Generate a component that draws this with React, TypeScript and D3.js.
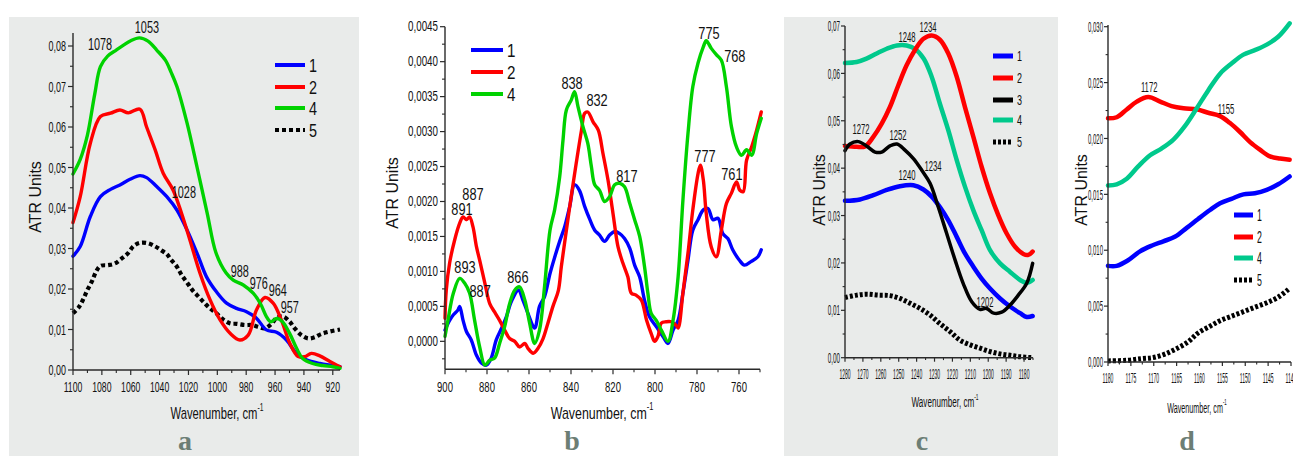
import React from 'react';
import * as d3 from 'd3';

type Pt = [number, number];

// ---------------- Panel a data ----------------
const aBlue: Pt[] = [[1100,0.0281],[1095,0.0305],[1088,0.0379],[1081,0.0428],[1074,0.0446],[1067.5,0.0457],[1060.5,0.0471],[1053.6,0.048],[1049,0.0475],[1042,0.0453],[1035,0.0428],[1028,0.0395],[1021,0.0346],[1014,0.0288],[1007.5,0.023],[1000.6,0.0193],[993.6,0.0165],[986.7,0.0152],[979.8,0.0144],[972.9,0.0128],[966,0.0099],[959,0.0093],[952.1,0.0074],[945.2,0.0041],[938.3,0.0025],[929,0.0016],[920,0.0011],[915,0.0008]];
const aRed: Pt[] = [[1100,0.0364],[1095,0.0428],[1088,0.056],[1081,0.0626],[1074,0.0634],[1067.5,0.0642],[1061.7,0.0635],[1053.6,0.0644],[1049,0.060],[1043,0.0543],[1037.5,0.0486],[1030.6,0.0444],[1024.8,0.0387],[1019,0.0321],[1012,0.0239],[1005,0.0173],[998,0.0123],[991,0.009],[984.4,0.0074],[978.6,0.0086],[972.9,0.0148],[967,0.0179],[961.3,0.0165],[955.6,0.0123],[949.8,0.0066],[944,0.0033],[939.4,0.0033],[934.8,0.0041],[929,0.0035],[922,0.0021],[915,0.0008]];
const aGreen: Pt[] = [[1100,0.0484],[1095,0.052],[1090,0.058],[1085,0.068],[1081,0.0749],[1076,0.0775],[1070,0.079],[1065,0.0802],[1060,0.0813],[1054,0.082],[1048,0.0812],[1042,0.079],[1036,0.0765],[1032,0.0735],[1028,0.070],[1021,0.061],[1014,0.050],[1007,0.0387],[1001,0.029],[994,0.024],[989,0.0222],[982,0.021],[975,0.0189],[970,0.0163],[966,0.0132],[963,0.0119],[959,0.0127],[955,0.012],[950,0.0091],[945,0.0053],[941,0.0029],[934,0.0016],[927,0.0011],[920,0.0008],[915,0.0004]];
const aBlack: Pt[] = [[1100,0.014],[1096,0.0155],[1093,0.0174],[1090,0.0198],[1087,0.0218],[1084,0.0243],[1081,0.0257],[1075.5,0.0259],[1071,0.0263],[1066,0.0276],[1062,0.0288],[1058,0.0306],[1053.6,0.0314],[1048,0.0313],[1043,0.0305],[1039,0.0296],[1035,0.0286],[1032,0.0272],[1028,0.0255],[1024.8,0.0235],[1021,0.0216],[1017,0.0196],[1013,0.0181],[1009,0.0166],[1005,0.0152],[1000.6,0.014],[996,0.0125],[991,0.0115],[986.7,0.0114],[981,0.0111],[976,0.0111],[972,0.0107],[967,0.0103],[962.5,0.0114],[959,0.0128],[954.4,0.0132],[949.8,0.0119],[946.4,0.0103],[941.7,0.0086],[937,0.0078],[932.5,0.0081],[928,0.0089],[922,0.0095],[915,0.01]];
const aXTicks = [1100,1080,1060,1040,1020,1000,980,960,940,920];
const aYTicks = [0,0.01,0.02,0.03,0.04,0.05,0.06,0.07,0.08];
const aLegend = ['1','2','4','5'];
const aNotes: [string, number, number][] = [['1078',1081.3,0.0802],['1053',1048.8,0.0844],['1028',1023.2,0.0437],['988',984.4,0.0242],['976',971.3,0.0212],['964',958.1,0.0195],['957',949.8,0.0153]];

// ---------------- Panel b data ----------------
const bBlue: Pt[] = [[900,0.00016],[897.8,0.0003],[896,0.00038],[893.8,0.00045],[893,0.0005],[891.4,0.0003],[889.8,0.00014],[887.5,0.00002],[885,-0.0002],[882.7,-0.00031],[880.3,-0.00034],[878,-0.00024],[875.6,0.00002],[873,0.00019],[870.8,0.00035],[868.4,0.00057],[865,0.00073],[862.9,0.00059],[860.5,0.0004],[857.3,0.00019],[855,0.0005],[852.6,0.00064],[850,0.00097],[847.8,0.0012],[845.4,0.00143],[843,0.00164],[840.6,0.00193],[838.3,0.00224],[836,0.00216],[833.5,0.00193],[831,0.00174],[828.7,0.00159],[826.4,0.00152],[824,0.00143],[821.6,0.00152],[819.2,0.00157],[816.8,0.00154],[814.5,0.00147],[812,0.00133],[809.7,0.00109],[807.3,0.00092],[805,0.00059],[802.6,0.00035],[799.4,0.00021],[796.2,0.00007],[793.8,-0.00003],[791.4,0.00016],[789,0.0003],[786.7,0.00069],[784.3,0.00116],[782,0.00159],[779.5,0.00174],[777,0.00188],[774.8,0.0019],[772.4,0.00174],[770,0.00176],[767.7,0.00154],[765.3,0.00147],[763,0.00131],[759.8,0.00116],[757.4,0.00109],[754.3,0.00114],[751,0.00121],[749.4,0.00131]];
const bRed: Pt[] = [[900,0.00033],[899.4,0.00073],[897.8,0.00112],[895.4,0.00145],[893,0.00169],[891.4,0.00178],[889.8,0.00174],[888.3,0.00178],[886.7,0.00164],[885,0.00135],[883.5,0.00116],[881,0.00083],[878.7,0.00054],[876.4,0.00042],[874,0.0003],[871.6,0.00016],[869.2,0.00004],[866.8,0],[864.5,-0.00008],[862,-0.00003],[860.5,-0.0001],[858,-0.00017],[855.7,-0.0001],[853.3,0.00004],[851,0.00026],[848.6,0.0005],[846,0.00073],[844.6,0.00107],[842.2,0.00159],[839.9,0.00207],[837.5,0.00255],[835,0.00302],[833.5,0.00326],[832,0.00328],[829.5,0.00314],[827,0.00302],[824.8,0.00269],[822.4,0.00231],[820,0.00183],[817.6,0.00135],[815.3,0.00112],[812.9,0.00092],[811.3,0.00069],[809,0.00066],[806.5,0.00059],[804,0.0003],[801.8,0.00011],[800.2,0],[798.6,0.00007],[797,0.00026],[794.7,0.00028],[792.3,0.00028],[790,0.00023],[789,0.00019],[786.7,0.00069],[784.3,0.00126],[782,0.00188],[779.5,0.0024],[778.4,0.00252],[777,0.00231],[775.6,0.00183],[773.2,0.00135],[770.8,0.00121],[768.4,0.00159],[766,0.00197],[763.6,0.00212],[761.2,0.00228],[759.6,0.00216],[758,0.00214],[756.4,0.00259],[754,0.00278],[751.6,0.00302],[749.4,0.00328]];
const bGreen: Pt[] = [[900,0.00007],[898.6,0.0003],[896,0.00069],[893,0.0009],[890.6,0.00083],[888.3,0.00069],[885.9,0.0003],[883.5,-0.00008],[881,-0.00034],[878.7,-0.00027],[876.4,-0.00024],[874,-0.00003],[871.6,0.00021],[869.2,0.00054],[866.8,0.00073],[864.5,0.00078],[862,0.00059],[859.7,0.00026],[857.3,-0.00003],[855,0.00016],[852.6,0.00078],[850,0.00159],[847.8,0.00188],[845.4,0.00235],[843.8,0.00288],[842.2,0.00331],[839.9,0.00345],[838.3,0.00357],[836.7,0.00336],[834.3,0.00307],[832,0.00283],[830.3,0.0025],[828.7,0.00224],[826.4,0.00216],[824,0.002],[821.6,0.00207],[819.2,0.00224],[816.8,0.00226],[814.5,0.00221],[812,0.00197],[809.7,0.00174],[807.3,0.0015],[805,0.00107],[803.4,0.00069],[801.8,0.0004],[799.4,0.0003],[797,0.00016],[793.8,0],[791.4,0.0003],[789,0.00092],[786.7,0.00202],[784.3,0.00297],[782,0.00364],[779.5,0.00398],[777,0.00421],[775.6,0.0043],[773.2,0.00419],[770.8,0.0041],[768.4,0.00402],[766,0.00364],[763.6,0.00307],[761.2,0.00278],[758.8,0.00266],[756.4,0.00274],[754,0.00266],[751.6,0.00297],[749.4,0.00319]];
const bXTicks = [900,880,860,840,820,800,780,760];
const bYTicks = [0,0.0005,0.001,0.0015,0.002,0.0025,0.003,0.0035,0.004,0.0045];
const bLegend = ['1','2','4'];
const bNotes: [string, number, number][] = [['887',886.7,0.0021],['891',891.9,0.00188],['893',890.5,0.00105],['887',883.3,0.00072],['866',865.3,0.00092],['838',839.5,0.00369],['832',827.6,0.00345],['817',813.4,0.00236],['775',774.3,0.0044],['768',762,0.00407],['777',776.2,0.00264],['761',763.4,0.00239]];

// ---------------- Panel c data ----------------
const cBlue: Pt[] = [[1280,0.0331],[1271.6,0.0334],[1264.2,0.0343],[1256.7,0.0354],[1249.3,0.0362],[1241.8,0.0364],[1236.2,0.0355],[1231.6,0.034],[1227,0.0318],[1222.3,0.029],[1217.6,0.0255],[1213,0.022],[1208.3,0.0192],[1203.7,0.0167],[1199,0.0146],[1193.4,0.0125],[1187.8,0.0108],[1182.2,0.0094],[1178.5,0.0086],[1175.2,0.0088]];
const cRed: Pt[] = [[1280,0.0447],[1273.5,0.0445],[1268.8,0.0446],[1264.2,0.0466],[1259.5,0.0494],[1254.9,0.0529],[1250.2,0.0575],[1245.6,0.0617],[1241,0.0649],[1236.2,0.0673],[1231.6,0.068],[1227,0.0671],[1222.3,0.0642],[1217.6,0.0593],[1213,0.0529],[1208.3,0.0466],[1203.7,0.0403],[1199,0.0347],[1194.4,0.0301],[1189.7,0.0262],[1185,0.0234],[1180.4,0.0219],[1177.6,0.0217],[1175.2,0.0224]];
const cBlack: Pt[] = [[1280,0.0437],[1277.2,0.0451],[1272.6,0.0456],[1268,0.0447],[1263.2,0.0434],[1259.5,0.0434],[1254.9,0.0447],[1251,0.0451],[1246.5,0.0438],[1241.8,0.042],[1237.2,0.0396],[1232.5,0.0368],[1227.9,0.0318],[1223.2,0.0262],[1218.5,0.0206],[1214,0.0157],[1209.2,0.0118],[1204.6,0.0102],[1201,0.0104],[1197,0.0094],[1192.5,0.0096],[1187.8,0.0111],[1183.2,0.0132],[1178.5,0.0157],[1175.2,0.0199]];
const cTeal: Pt[] = [[1280,0.0622],[1273.5,0.0624],[1268,0.0631],[1262.3,0.0642],[1256.7,0.0652],[1251,0.0659],[1245.6,0.0659],[1241,0.0652],[1236,0.0631],[1231.6,0.0593],[1227,0.0536],[1222.3,0.048],[1217.6,0.0417],[1213,0.0361],[1208.3,0.0311],[1203.7,0.0269],[1199,0.0227],[1193.4,0.0199],[1187.8,0.0181],[1182.2,0.0164],[1178.5,0.0158],[1175.2,0.0164]];
const cDots: Pt[] = [[1280,0.0127],[1273.5,0.0132],[1268,0.0134],[1261.4,0.0132],[1254.9,0.0131],[1249.3,0.0125],[1243.7,0.0115],[1238.1,0.0104],[1232.5,0.009],[1227,0.0072],[1221.3,0.0055],[1215.8,0.0037],[1210,0.0027],[1204.6,0.002],[1199,0.0013],[1193.4,0.0008],[1187.8,0.0005],[1182.2,0.0002],[1175.2,0.0]];
const cXTicks = [1280,1270,1260,1250,1240,1230,1220,1210,1200,1190,1180];
const cYTicks = [0,0.01,0.02,0.03,0.04,0.05,0.06,0.07];
const cLegend = ['1','2','3','4','5'];
const cNotes: [string, number, number][] = [['1272',1271.1,0.0482],['1252',1250.4,0.047],['1248',1245.4,0.0677],['1234',1233.6,0.0698],['1240',1245.4,0.0385],['1234',1230.8,0.0404],['1202',1201.8,0.0118]];

// ---------------- Panel d data ----------------
const dBlue: Pt[] = [[1180,0.0086],[1178.1,0.0086],[1175.6,0.0091],[1173,0.0099],[1170.5,0.0104],[1167.9,0.0108],[1165.4,0.0112],[1162.8,0.012],[1160.3,0.0128],[1157.7,0.0136],[1155.5,0.0142],[1153,0.0146],[1150.4,0.015],[1147.9,0.0151],[1145.3,0.0154],[1142.8,0.0159],[1140.3,0.0166]];
const dRed: Pt[] = [[1180,0.0218],[1178.1,0.0219],[1175.9,0.0226],[1173.7,0.0233],[1171.2,0.0237],[1168.6,0.0233],[1166.1,0.0229],[1163.5,0.0227],[1160.6,0.0226],[1158.1,0.0223],[1155.5,0.022],[1153.4,0.0214],[1151.2,0.0206],[1149,0.0197],[1146.8,0.019],[1144.6,0.0184],[1142.4,0.0182],[1140.3,0.0181]];
const dTeal: Pt[] = [[1180,0.0158],[1178.1,0.0159],[1175.9,0.0164],[1173.4,0.0175],[1170.8,0.0185],[1168.3,0.0191],[1165.7,0.0199],[1163.2,0.0211],[1160.6,0.0227],[1158.1,0.0243],[1155.5,0.0258],[1153,0.0267],[1150.4,0.0275],[1147.9,0.0279],[1145.3,0.0284],[1142.8,0.0291],[1140.3,0.0303]];
const dDots: Pt[] = [[1180,0.0001],[1175.9,0.00015],[1172.6,0.0003],[1170.1,0.0004],[1167.6,0.0007],[1165,0.0012],[1162.5,0.0018],[1160.3,0.0026],[1157.7,0.0032],[1155.5,0.0037],[1153,0.0041],[1150.4,0.0045],[1147.9,0.0049],[1145.3,0.0053],[1142.8,0.0058],[1140.3,0.0066]];
const dXTicks = [1180,1175,1170,1165,1160,1155,1150,1145,1140];
const dYTicks = [0,0.005,0.01,0.015,0.02,0.025,0.03];
const dLegend = ['1','2','4','5'];
const dNotes: [string, number, number][] = [['1172',1171,0.0246],['1155',1154.2,0.0226]];

const SANS = 'Liberation Sans, Arial, Helvetica, sans-serif';
const BLUE = '#0000ff', RED = '#ff0000', GREEN = '#00d200', TEAL = '#00c98c', BLACK = '#000000';
const BG = '#e9ebea';

interface Series { data: Pt[]; color: string; width: number; dash?: string }
interface Cfg {
  bg?: [number, number, number, number];
  xDomain: [number, number]; xRange: [number, number];
  yDomain: [number, number]; yRange: [number, number];
  axisTop: number;
  xTicks: number[]; xMinorStep: number; yTicks: number[]; yMinorStep: number; yDec: number;
  tickSize: number; xTickSx: number; yTickSx: number; xLabelY: number; yLabelGap: number;
  series: Series[];
  legend: { labels: string[]; colors: string[]; dashes: (string | undefined)[]; x1: number; x2: number; ys: number[]; size: number; sx: number; width: number };
  notes: [string, number, number][]; noteSize: number; noteSx: number;
  ylab: [number, number]; xlab: [number, number, number, number]; letter: [string, number];
}

function Txt(p: { x: number; y: number; sx?: number; size: number; anchor?: string; fill?: string; family?: string; weight?: string; rot?: number; children: React.ReactNode }) {
  const { x, y, sx = 1, size, anchor = 'middle', fill = '#111', family = SANS, weight = 'normal', rot = 0 } = p;
  return (
    <text transform={`translate(${x},${y}) rotate(${rot}) scale(${sx},1)`} fontSize={size} textAnchor={anchor as any}
      dominantBaseline="central" fill={fill} fontFamily={family} fontWeight={weight}>{p.children}</text>
  );
}

function Panel({ c }: { c: Cfg }) {
  const x = d3.scaleLinear().domain(c.xDomain).range(c.xRange);
  const y = d3.scaleLinear().domain(c.yDomain).range(c.yRange);
  const line = d3.line<Pt>().x(d => x(d[0])).y(d => y(d[1])).curve(d3.curveCatmullRom.alpha(0.5));
  const [xa, xb] = c.xRange;
  const yb = c.yRange[0];
  const eps = 1e-9;
  const xMinor = d3.range(c.xDomain[0], c.xDomain[1] - eps, -c.xMinorStep).filter(v => !c.xTicks.some(t => Math.abs(t - v) < eps));
  const yMinor = d3.range(Math.ceil(c.yDomain[0] / c.yMinorStep) * c.yMinorStep, c.yDomain[1] + eps, c.yMinorStep)
    .filter(v => !c.yTicks.some(t => Math.abs(t - v) < 1e-9) && y(v) >= c.axisTop - 0.5);
  const axisColor = '#2a2a2a';
  return (
    <g>
      {c.bg && <rect x={c.bg[0]} y={c.bg[1]} width={c.bg[2]} height={c.bg[3]} fill={BG} />}
      {c.series.map((s, i) => (
        <path key={i} d={line(s.data) || ''} fill="none" stroke={s.color} strokeWidth={s.width}
          strokeDasharray={s.dash} strokeLinejoin="round" strokeLinecap={s.dash ? 'butt' : 'round'} />
      ))}
      <line x1={xa} x2={xa} y1={c.axisTop} y2={yb} stroke={axisColor} strokeWidth={1.4} />
      <line x1={xa} x2={xb} y1={yb} y2={yb} stroke={axisColor} strokeWidth={1.4} />
      {c.xTicks.map((t, i) => (
        <g key={'xt' + i}>
          <line x1={x(t)} x2={x(t)} y1={yb} y2={yb + c.tickSize} stroke={axisColor} strokeWidth={1.2} />
          <Txt x={x(t)} y={c.xLabelY} size={14} sx={c.xTickSx}>{String(t)}</Txt>
        </g>
      ))}
      {xMinor.map((t, i) => <line key={'xm' + i} x1={x(t)} x2={x(t)} y1={yb} y2={yb + c.tickSize * 0.6} stroke={axisColor} strokeWidth={1.1} />)}
      {c.yTicks.map((t, i) => (
        <g key={'yt' + i}>
          <line x1={xa - c.tickSize} x2={xa} y1={y(t)} y2={y(t)} stroke={axisColor} strokeWidth={1.2} />
          <Txt x={xa - c.yLabelGap} y={y(t)} size={14} sx={c.yTickSx} anchor="end">{t.toFixed(c.yDec).replace('.', ',')}</Txt>
        </g>
      ))}
      {yMinor.map((t, i) => <line key={'ym' + i} x1={xa - c.tickSize * 0.6} x2={xa} y1={y(t)} y2={y(t)} stroke={axisColor} strokeWidth={1.1} />)}
      {c.legend.labels.map((l, i) => (
        <g key={'lg' + i}>
          <line x1={c.legend.x1} x2={c.legend.x2} y1={c.legend.ys[i]} y2={c.legend.ys[i]} stroke={c.legend.colors[i]}
            strokeWidth={c.legend.width} strokeDasharray={c.legend.dashes[i]} />
          <Txt x={c.legend.x2 + 4} y={c.legend.ys[i]} size={c.legend.size} sx={c.legend.sx} anchor="start">{l}</Txt>
        </g>
      ))}
      {c.notes.map((n, i) => <Txt key={'n' + i} x={x(n[1])} y={y(n[2])} size={c.noteSize} sx={c.noteSx}>{n[0]}</Txt>)}
      <Txt x={c.ylab[0]} y={c.ylab[1]} size={16} rot={-90}>ATR Units</Txt>
      <Txt x={c.xlab[0]} y={c.xlab[1]} size={c.xlab[2]} sx={c.xlab[3]}>
        <tspan>Wavenumber, cm</tspan><tspan dy={-6} fontSize={c.xlab[2] * 0.6}>-1</tspan>
      </Txt>
      <text x={c.letter[1]} y={450} fontSize={28} fontWeight="bold" fill="#6c7e75" textAnchor="middle"
        fontFamily="Liberation Serif, Times New Roman, serif">{c.letter[0]}</text>
    </g>
  );
}

const panels: Cfg[] = [
  {
    bg: [9, 17, 350, 439],
    xDomain: [1100, 915], xRange: [73, 340], yDomain: [0, 0.083], yRange: [370, 370 - 0.083 * 4050], axisTop: 33,
    xTicks: aXTicks, xMinorStep: 10, yTicks: aYTicks, yMinorStep: 0.005, yDec: 2,
    tickSize: 5, xTickSx: 0.62, yTickSx: 0.64, xLabelY: 387, yLabelGap: 7,
    series: [
      { data: aBlack, color: BLACK, width: 4.2, dash: '4,3' },
      { data: aBlue, color: BLUE, width: 3.4 },
      { data: aRed, color: RED, width: 3.4 },
      { data: aGreen, color: GREEN, width: 3.4 },
    ],
    legend: { labels: aLegend, colors: [BLUE, RED, GREEN, BLACK], dashes: [undefined, undefined, undefined, '4,3'], x1: 275, x2: 305, ys: [65, 87, 108, 130], size: 18, sx: 0.8, width: 4 },
    notes: aNotes, noteSize: 16, noteSx: 0.68,
    ylab: [35, 197], xlab: [217, 413, 17, 0.66], letter: ['a', 185],
  },
  {
    xDomain: [900, 750], xRange: [445, 760], yDomain: [-0.0004, 0.0045], yRange: [369.3, 26.7], axisTop: 26.7,
    xTicks: bXTicks, xMinorStep: 10, yTicks: bYTicks, yMinorStep: 0.00025, yDec: 4,
    tickSize: 5, xTickSx: 0.68, yTickSx: 0.7, xLabelY: 387, yLabelGap: 7,
    series: [
      { data: bBlue, color: BLUE, width: 3.4 },
      { data: bRed, color: RED, width: 3.4 },
      { data: bGreen, color: GREEN, width: 3.4 },
    ],
    legend: { labels: bLegend, colors: [BLUE, RED, GREEN], dashes: [undefined, undefined, undefined], x1: 471, x2: 503, ys: [50, 72, 94], size: 19, sx: 0.8, width: 4 },
    notes: bNotes, noteSize: 16, noteSx: 0.8,
    ylab: [392, 193], xlab: [602, 413, 17, 0.73], letter: ['b', 572],
  },
  {
    bg: [784, 17, 274, 439],
    xDomain: [1280, 1175], xRange: [845, 1033], yDomain: [0, 0.07], yRange: [357.7, 26], axisTop: 26,
    xTicks: cXTicks, xMinorStep: 5, yTicks: cYTicks, yMinorStep: 0.005, yDec: 2,
    tickSize: 4, xTickSx: 0.36, yTickSx: 0.45, xLabelY: 374, yLabelGap: 5,
    series: [
      { data: cDots, color: BLACK, width: 5, dash: '3,2' },
      { data: cBlue, color: BLUE, width: 4.5 },
      { data: cTeal, color: TEAL, width: 4.5 },
      { data: cRed, color: RED, width: 4.5 },
      { data: cBlack, color: BLACK, width: 3.5 },
    ],
    legend: { labels: cLegend, colors: [BLUE, RED, BLACK, TEAL, BLACK], dashes: [undefined, undefined, undefined, undefined, '3,2'], x1: 993, x2: 1013, ys: [56, 78, 100, 120, 142], size: 15, sx: 0.6, width: 5 },
    notes: cNotes, noteSize: 14, noteSx: 0.55,
    ylab: [819, 190], xlab: [945, 402, 15, 0.54], letter: ['c', 922],
  },
  {
    xDomain: [1180, 1140], xRange: [1108, 1291], yDomain: [0, 0.03], yRange: [362, 26.7], axisTop: 25,
    xTicks: dXTicks, xMinorStep: 2.5, yTicks: dYTicks, yMinorStep: 0.0025, yDec: 3,
    tickSize: 4, xTickSx: 0.36, yTickSx: 0.43, xLabelY: 378, yLabelGap: 5,
    series: [
      { data: dDots, color: BLACK, width: 5, dash: '3,2' },
      { data: dBlue, color: BLUE, width: 4.5 },
      { data: dRed, color: RED, width: 4.5 },
      { data: dTeal, color: TEAL, width: 4.5 },
    ],
    legend: { labels: dLegend, colors: [BLUE, RED, TEAL, BLACK], dashes: [undefined, undefined, undefined, '3,2'], x1: 1234, x2: 1253, ys: [215, 237, 258, 280], size: 16, sx: 0.55, width: 5 },
    notes: dNotes, noteSize: 14, noteSx: 0.55,
    ylab: [1081, 190], xlab: [1197, 407, 15, 0.48], letter: ['d', 1187],
  },
];

export default function App() {
  return (
    <svg width={1293} height={456} style={{ position: 'absolute', left: 0, top: 0, background: '#fff' }}>
      {panels.map((p, i) => <Panel key={i} c={p} />)}
    </svg>
  );
}
